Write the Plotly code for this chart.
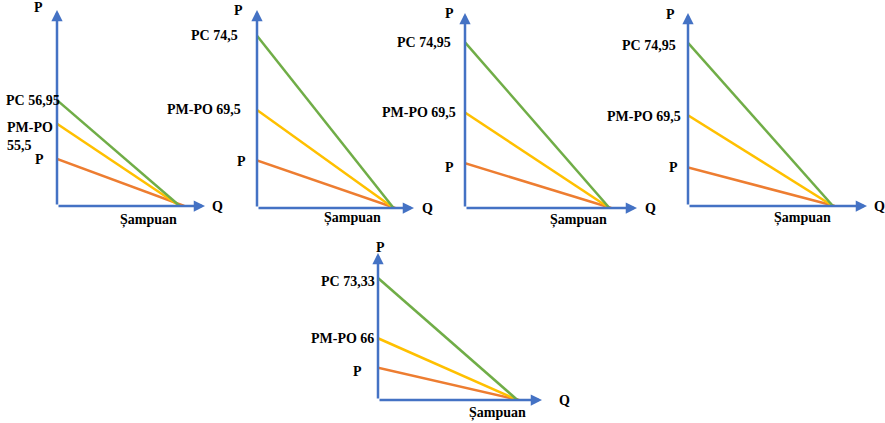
import plotly.graph_objects as go

# ---------------- data (schematic units, 0-100 on each panel's axes) ----------------
pc_labels = ["PC 56,95", "PC 74,5", "PC 74,95", "PC 74,95", "PC 73,33"]
pmpo_labels = ["PM-PO<br>55,5", "PM-PO 69,5", "PM-PO 69,5", "PM-PO 69,5", "PM-PO 66"]
p_label = "P"
q_label = "Q"
product_label = "Șampuan"

green_intercept = [54, 87, 85, 84.5, 83]
yellow_intercept = [42, 49.5, 49, 47, 42]
orange_intercept = [24, 24, 23, 20, 22]
line_end_q = [83, 87, 84, 81, 85]
orange_end_q = [86, 88, 85, 82, 86]

# ---------------- layout (pixel boxes of each panel) ----------------
W, H = 885, 423
# origin x, origin y, x-arrow tip, y-arrow tip (pixels)
boxes = [
    (57, 206, 205, 10),
    (257, 208, 414, 10),
    (465, 208, 637, 13),
    (688, 206, 867, 13),
    (378, 400, 542, 253),
]
# label offsets: (xshift, yshift) for PC, PM-PO, P
pc_shift = [(5, 0), (-17, 0), (-12, 0), (-10, -3), (-1, -4)]
pm_shift = [(-2, 6), (-14, 0), (-7, 0), (-5, -1), (-2, 0)]
p_shift = [(-11, -1), (-9, -1), (-9, -4), (-8, 0), (-14, -4)]
ptop_shift = [(-12, 3), (-12, 0), (-9, 0), (-11, -1), (2, 6)]
ptop_anchor = ["right", "right", "right", "right", "center"]
q_shift = [5, 6, 6, 5, 15]
prod_pos = [61.5, 61, 65.7, 64.2, 72.6]
prod_yshift = [-14, -10, -12, -12, -13]

GREEN = "#70AD47"
YELLOW = "#FFC000"
ORANGE = "#ED7D31"
BLUE = "#4472C4"
FAMILY = "Liberation Serif, Times New Roman, serif"
FONT = dict(family=FAMILY, size=14, color="black")

fig = go.Figure()
annotations = []

for i in range(5):
    n = "" if i == 0 else str(i + 1)
    xa, ya = "x" + n, "y" + n
    ox, oy, tx, ty = boxes[i]
    fig.update_layout(**{
        "xaxis" + n: dict(domain=[ox / W, tx / W], range=[0, 100], visible=False,
                          anchor=ya, fixedrange=True),
        "yaxis" + n: dict(domain=[1 - oy / H, 1 - ty / H], range=[0, 100], visible=False,
                          anchor=xa, fixedrange=True),
    })
    for inter, end, col in [(orange_intercept[i], orange_end_q[i], ORANGE),
                            (yellow_intercept[i], line_end_q[i], YELLOW),
                            (green_intercept[i], line_end_q[i], GREEN)]:
        fig.add_trace(go.Scatter(x=[0, end], y=[inter, 0], mode="lines",
                                 line=dict(color=col, width=2.5),
                                 xaxis=xa, yaxis=ya, showlegend=False,
                                 hoverinfo="skip"))
    # axis arrows
    for (x, y) in [(100, 0), (0, 100)]:
        annotations.append(dict(x=x, y=y, ax=0, ay=0, xref=xa, yref=ya,
                                axref=xa, ayref=ya, text="", showarrow=True,
                                arrowhead=2, arrowsize=0.9, arrowwidth=2.5,
                                arrowcolor=BLUE, standoff=0, startstandoff=0))
    # value labels
    annotations.append(dict(x=0, y=green_intercept[i], xref=xa, yref=ya,
                            text="<b>" + pc_labels[i] + "</b>", showarrow=False,
                            xanchor="right", yanchor="middle",
                            xshift=pc_shift[i][0], yshift=pc_shift[i][1], font=FONT))
    annotations.append(dict(x=0, y=yellow_intercept[i], xref=xa, yref=ya,
                            text="<b>" + pmpo_labels[i] + "</b>", showarrow=False,
                            xanchor="right",
                            yanchor="top" if "<br>" in pmpo_labels[i] else "middle",
                            align="left",
                            xshift=pm_shift[i][0], yshift=pm_shift[i][1], font=FONT))
    annotations.append(dict(x=0, y=orange_intercept[i], xref=xa, yref=ya,
                            text="<b>" + p_label + "</b>", showarrow=False,
                            xanchor="right", yanchor="middle",
                            xshift=p_shift[i][0], yshift=p_shift[i][1], font=FONT))
    # axis titles
    annotations.append(dict(x=0, y=100, xref=xa, yref=ya,
                            text="<b>" + p_label + "</b>", showarrow=False,
                            xanchor=ptop_anchor[i], yanchor="middle",
                            xshift=ptop_shift[i][0], yshift=ptop_shift[i][1], font=FONT))
    annotations.append(dict(x=100, y=0, xref=xa, yref=ya,
                            text="<b>" + q_label + "</b>", showarrow=False,
                            xanchor="left", yanchor="middle",
                            xshift=q_shift[i], font=FONT))
    annotations.append(dict(x=prod_pos[i], y=0, xref=xa, yref=ya,
                            text="<b>" + product_label + "</b>", showarrow=False,
                            xanchor="center", yanchor="middle",
                            yshift=prod_yshift[i], font=FONT))

fig.update_layout(width=W, height=H, margin=dict(l=0, r=0, t=0, b=0),
                  paper_bgcolor="white", plot_bgcolor="rgba(0,0,0,0)",
                  annotations=annotations, showlegend=False,
                  font=dict(family=FAMILY))
fig.write_html("out.html", config={"displayModeBar": False},
               post_script="document.body.style.margin='0';document.body.style.padding='0';")
